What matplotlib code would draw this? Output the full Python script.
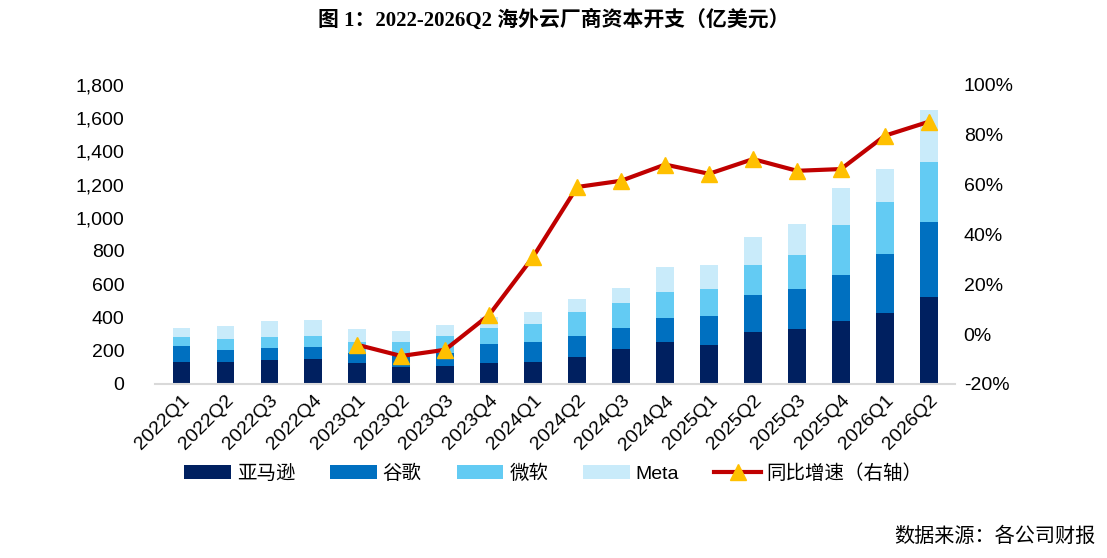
import numpy as np
import matplotlib
matplotlib.use('Agg')
from matplotlib import pyplot as plt
from matplotlib.ticker import FuncFormatter

plt.rcParams['font.family'] = ['Liberation Sans', 'Noto Sans CJK SC', 'DejaVu Sans']

quarters = ['2022Q1', '2022Q2', '2022Q3', '2022Q4', '2023Q1', '2023Q2', '2023Q3', '2023Q4',
            '2024Q1', '2024Q2', '2024Q3', '2024Q4', '2025Q1', '2025Q2', '2025Q3', '2025Q4',
            '2026Q1', '2026Q2']
amazon = [130, 134, 145, 150, 124, 100, 108, 124, 133, 159, 209, 255, 235, 315, 333, 378, 426, 526]
google = [99, 69, 74, 75, 63, 67, 79, 115, 118, 130, 126, 141, 173, 223, 241, 280, 357, 448]
microsoft = [54, 68, 62, 62, 66, 88, 100, 96, 112, 141, 151, 160, 166, 175, 199, 298, 309, 359]
meta = [56, 80, 97, 97, 76, 66, 68, 65, 67, 82, 94, 149, 141, 173, 191, 225, 201, 314]
growth = [None, None, None, None, -4.3, -8.8, -6.3, 7.7, 31.0, 59.0, 61.5, 68.0, 64.3, 70.2,
          65.5, 66.2, 79.6, 85.2]

fig = plt.figure(figsize=(11.07, 5.58), dpi=100)
ax = fig.add_axes([0.14, 0.312, 0.723, 0.536])

x = np.arange(len(quarters))
w = 0.4
a = np.array(amazon)
g = np.array(google)
m = np.array(microsoft)
mt = np.array(meta)
b1 = ax.bar(x, a, w, color='#002060', label='亚马逊')
b2 = ax.bar(x, g, w, bottom=a, color='#0070C0', label='谷歌')
b3 = ax.bar(x, m, w, bottom=a + g, color='#63CBF3', label='微软')
b4 = ax.bar(x, mt, w, bottom=a + g + m, color='#C9EBFA', label='Meta')

ax.set_ylim(0, 1800)
ax.set_yticks(range(0, 1801, 200))
ax.yaxis.set_major_formatter(FuncFormatter(lambda v, p: f'{int(v):,}'))
ax.set_xlim(-0.6, len(quarters) - 0.4)
ax.set_xticks(x)
ax.set_xticklabels(quarters, rotation=45, ha='right', rotation_mode='anchor')
ax.tick_params(axis='both', length=0, labelsize=14)
ax.tick_params(axis='x', pad=6)
ax.tick_params(axis='y', pad=22)
for s in ['top', 'left', 'right']:
    ax.spines[s].set_visible(False)
ax.spines['bottom'].set_color('#D9D9D9')
ax.spines['bottom'].set_linewidth(1.5)

ax2 = ax.twinx()
gx = [i for i, v in enumerate(growth) if v is not None]
gy = [v for v in growth if v is not None]
ln, = ax2.plot(gx, gy, color='#C00000', lw=3, marker='^', markersize=11,
               markerfacecolor='#FFC000', markeredgecolor='#FFC000', label='同比增速（右轴）')
ax2.set_ylim(-20, 100)
ax2.set_yticks(range(-20, 101, 20))
ax2.yaxis.set_major_formatter(FuncFormatter(lambda v, p: f'{int(v)}%'))
ax2.tick_params(axis='y', length=0, labelsize=14, pad=6)
for s in ['top', 'left', 'right', 'bottom']:
    ax2.spines[s].set_visible(False)

fig.legend([b1, b2, b3, b4, ln], ['亚马逊', '谷歌', '微软', 'Meta', '同比增速（右轴）'],
           loc='center', bbox_to_anchor=(0.5, 0.152), ncol=5, frameon=False, fontsize=14,
           handlelength=2.4, handletextpad=0.3, columnspacing=1.8)

fig.text(0.5, 0.963, '图 1：2022-2026Q2 海外云厂商资本开支（亿美元）', ha='center', va='center',
         fontsize=15, fontweight='bold', family=['Liberation Serif', 'Noto Sans CJK SC', 'DejaVu Sans'])
fig.text(0.99, 0.038, '数据来源：各公司财报', ha='right', va='center', fontsize=14.5,
         family=['Noto Sans CJK SC', 'DejaVu Sans'])

fig.savefig('out.png', dpi=100)
